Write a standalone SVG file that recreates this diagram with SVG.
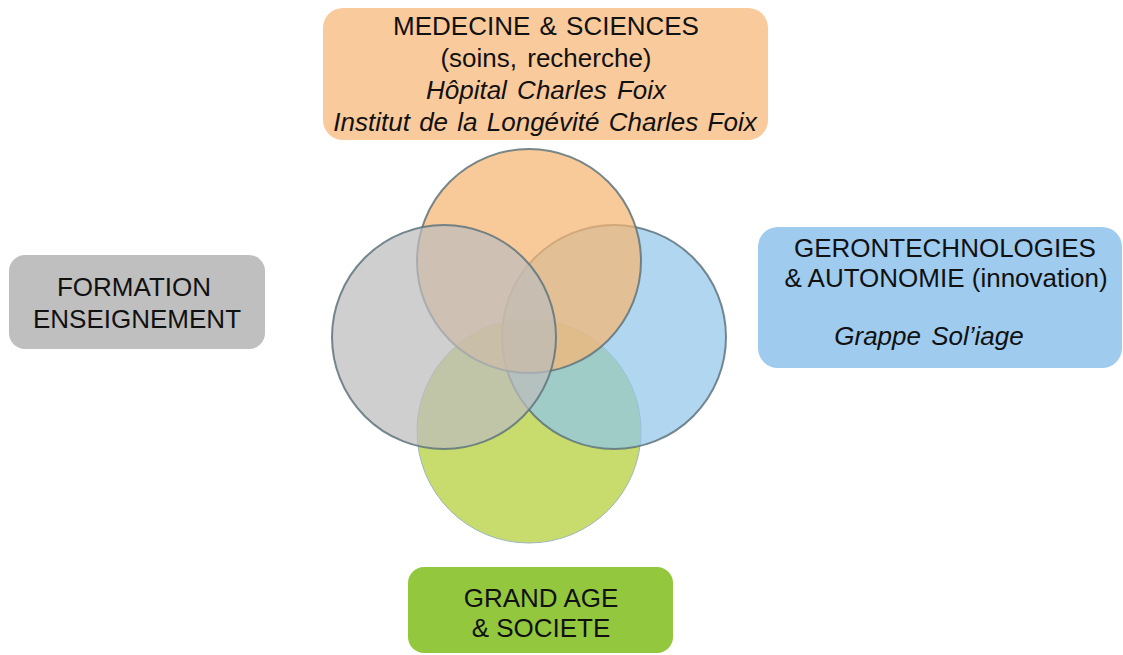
<svg xmlns="http://www.w3.org/2000/svg" width="1123" height="655" viewBox="0 0 1123 655">
<style>
text{font-family:"Liberation Sans",Arial,sans-serif;font-size:26px;fill:#111;text-anchor:middle}
.it{font-style:italic}
.c{stroke:#5f747c;stroke-width:2;stroke-opacity:0.85;fill-opacity:0.72}
</style>
<rect width="1123" height="655" fill="#fff"/>
<g id="venn">
<circle id="c-green" cx="529" cy="431" r="112" fill="#b4d03c" fill-opacity="0.75" stroke="#9fb6b8" stroke-width="1"/>
<circle id="c-blue" class="c" cx="614" cy="337" r="112" fill="#92c6ea"/>
<circle id="c-orange" class="c" cx="529" cy="261" r="112" fill="#f6b572"/>
<circle id="c-gray" class="c" cx="444" cy="337" r="112" fill="#bcbcbc"/>
</g>
<g id="node-medecine">
<rect x="323" y="8" width="445" height="132" rx="20" fill="#f9ca9c"/>
<text x="546" y="35" word-spacing="2">MEDECINE &amp; SCIENCES</text>
<text x="546" y="67" word-spacing="3">(soins, recherche)</text>
<text class="it" x="546" y="99" word-spacing="3">Hôpital Charles Foix</text>
<text class="it" x="545" y="131" word-spacing="2">Institut de la Longévité Charles Foix</text>
</g>
<g id="node-formation">
<rect x="9" y="255" width="256" height="94" rx="16" fill="#bfbfbf"/>
<text x="134" y="296">FORMATION</text>
<text x="137" y="328">ENSEIGNEMENT</text>
</g>
<g id="node-geronto">
<rect x="758" y="227" width="364" height="141" rx="20" fill="#9ecbee"/>
<text x="945" y="257">GERONTECHNOLOGIES</text>
<text x="946" y="287">&amp; AUTONOMIE (innovation)</text>
<text class="it" x="929" y="345" word-spacing="3">Grappe Sol’iage</text>
</g>
<g id="node-grandage">
<rect x="408" y="567" width="265" height="86" rx="16" fill="#93c83e"/>
<text x="541" y="607">GRAND AGE</text>
<text x="541" y="637">&amp; SOCIETE</text>
</g>
<g id="connectors"></g>
</svg>
